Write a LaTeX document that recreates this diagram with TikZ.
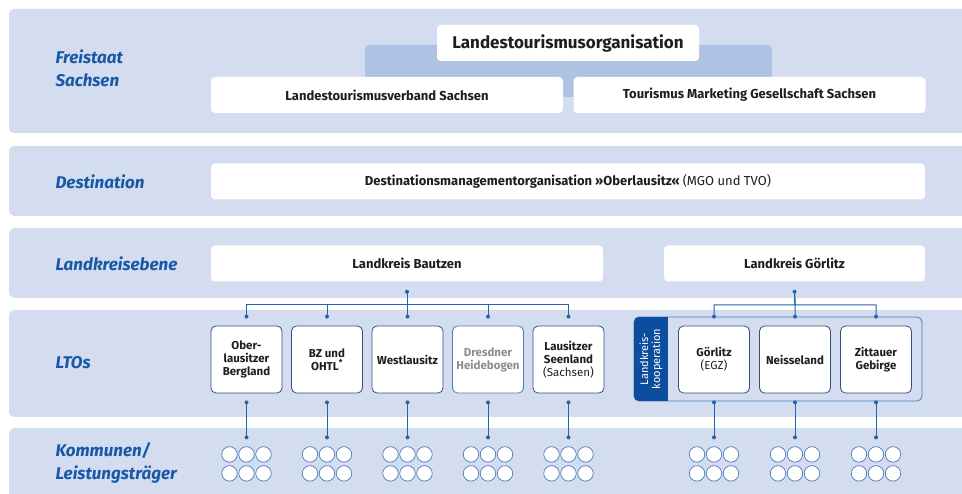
\documentclass[tikz,border=0pt]{standalone}
\usepackage{fontspec}
\setmainfont{Fira Sans}

\definecolor{bandblue}{RGB}{212,221,239}
\definecolor{shadeblue}{RGB}{174,195,228}
\definecolor{levelblue}{RGB}{24,88,166}
\definecolor{linkblue}{RGB}{38,98,172}
\definecolor{tabblue}{RGB}{12,78,158}
\definecolor{frameblue}{RGB}{72,122,190}
\definecolor{ltoframe}{RGB}{52,80,120}
\definecolor{inkgrey}{RGB}{30,30,30}

\tikzset{
	level/.style={anchor=west, align=left, text=levelblue, font=\fontsize{17}{23}\selectfont\bfseries\itshape},
	whitebox/.style={fill=white, rounded corners=4pt, text=inkgrey, inner sep=0pt, minimum height=36pt, font=\fontsize{13}{15}\selectfont\bfseries},
	ltobox/.style={draw=ltoframe, line width=0.8pt, fill=white, rounded corners=5pt, text=inkgrey, align=center, inner sep=0pt, minimum width=71pt, minimum height=67pt, font=\fontsize{11.5}{13}\selectfont\bfseries},
	link/.style={linkblue, line width=1pt},
	komm/.style={circle, draw=frameblue, line width=0.7pt, fill=white, inner sep=0pt, minimum size=15.5pt},
}

\begin{document}
\begin{tikzpicture}[x=1pt, y=-1pt]
	\useasboundingbox (0,0) rectangle (962,494);
	% horizontal bands, one per level
	\foreach \top/\bot in {9/133, 146/216, 228/298, 310/417, 428/510}
	{
		\fill[bandblue, rounded corners=5pt] (9,\top) rectangle (980,\bot);
	}
	% level names
	\node[level] (freistaat) at (52,68) {Freistaat\\Sachsen};
	\node[level] (destination) at (52,182) {Destination};
	\node[level] (landkreise) at (52,264) {Landkreisebene};
	\node[level] (ltos) at (52,363) {LTOs};
	\node[level] (kommunen) at (52,463) {Kommunen/\\Leistungsträger};

	% state level
	\fill[shadeblue, rounded corners=4pt] (365,45) rectangle (772,97);
	\node[whitebox, minimum width=262pt, font=\fontsize{17}{19}\selectfont\bfseries] (lto) at (568,43) {Landestourismusorganisation};
	\node[whitebox, minimum width=352pt] (ltv) at (387,95) {Landestourismusverband Sachsen};
	\node[whitebox, minimum width=352pt] (tmgs) at (749.5,95) {Tourismus Marketing Gesellschaft Sachsen};

	% destination
	\node[whitebox, minimum width=714pt] (dmo) at (568,181.5) {Destinationsmanagementorganisation »Oberlausitz« {\mdseries (MGO und TVO)}};

	% districts
	\node[whitebox, minimum width=392pt] (bautzen) at (407,263.5) {Landkreis Bautzen};
	\node[whitebox, minimum width=261pt] (goerlitz) at (794.5,263.5) {Landkreis Görlitz};

	% frame of the district cooperation
	\draw[frameblue, line width=0.8pt, rounded corners=5pt] (634,317) rectangle (922,401);
	\begin{scope}
		\clip[rounded corners=5pt] (634,317) rectangle (922,401);
		\fill[tabblue] (634,317) rectangle (668,401);
	\end{scope}
	\node[rotate=90, text=white, align=center, font=\fontsize{11}{12}\selectfont] (koop) at (651,359) {Landkreis-\\kooperation};

	% local tourism organisations
	\node[ltobox] (obl) at (246.5,359.5) {Ober-\\lausitzer\\Bergland};
	\node[ltobox] (bzo) at (327,359.5) {BZ und\\OHTL\textsuperscript{*}};
	\node[ltobox] (wl) at (407.5,359.5) {Westlausitz};
	\node[ltobox, draw=frameblue, text=black!45] (dh) at (488,359.5) {Dresdner\\Heidebogen};
	\node[ltobox] (ls) at (568.5,359.5) {Lausitzer\\Seenland\\{\mdseries (Sachsen)}};
	\node[ltobox] (gr) at (714,359.5) {Görlitz\\{\mdseries (EGZ)}};
	\node[ltobox] (ns) at (795,359.5) {Neisseland};
	\node[ltobox] (zg) at (876,359.5) {Zittauer\\Gebirge};

	% branches from the districts
	\coordinate (bautzen-out) at ([yshift=-10pt]bautzen.south);
	\coordinate (goerlitz-out) at ([yshift=-10pt]goerlitz.south);
	\coordinate (bautzen-bar) at (407,305);
	\coordinate (goerlitz-bar) at (795,305);
	\fill[linkblue] (bautzen-out) circle (2pt) (goerlitz-out) circle (2pt);
	\foreach \n in {obl,bzo,wl,dh,ls}
	{
		\coordinate (\n-in) at ([yshift=9pt]\n.north);
		\draw[link] (bautzen-out) -- (bautzen-bar) -| (\n-in);
		\fill[linkblue] (\n-in) circle (2pt);
	}
	\foreach \n in {gr,ns,zg}
	{
		\coordinate (\n-in) at ([yshift=9pt]\n.north);
		\draw[link] (goerlitz-out) -- (goerlitz-bar) -| (\n-in);
		\fill[linkblue] (\n-in) circle (2pt);
	}

	% municipalities and service providers below each LTO
	\foreach \n in {obl,bzo,wl,dh,ls,gr,ns,zg}
	{
		\coordinate (\n-out) at ([yshift=-9pt]\n.south);
		\coordinate (\n-down) at ([yshift=-44pt]\n.south);
		\draw[link] (\n-out) -- (\n-down);
		\fill[linkblue] (\n-out) circle (2pt) (\n-down) circle (2pt);
		\foreach \i/\dx in {1/-17,2/0,3/17}
		{
			\node[komm] (\n-k\i) at ([xshift=\dx pt, yshift=-61pt]\n.south) {};
			\node[komm] (\n-l\i) at ([xshift=\dx pt, yshift=-80pt]\n.south) {};
		}
	}
\end{tikzpicture}
\end{document}
